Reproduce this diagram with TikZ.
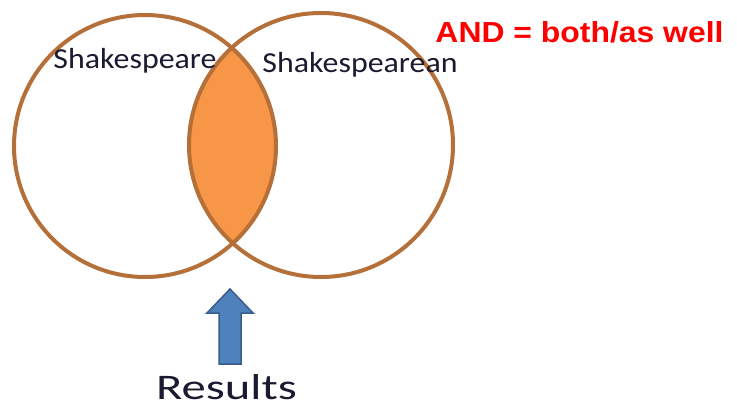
\documentclass[tikz,border=0pt]{standalone}
\usepackage{fontspec}
\setmainfont{Carlito}[FakeStretch=1.1]
\newfontfamily\andfont{Liberation Sans}[FakeStretch=1.1]
\newfontfamily\resultfont{Carlito}[FakeStretch=1.35]
\usepackage{xcolor}
\definecolor{ringbrown}{HTML}{B5703A}
\definecolor{lensorange}{HTML}{F79646}
\definecolor{arrowblue}{HTML}{4F81BD}
\definecolor{arrowedge}{HTML}{385D8A}
\definecolor{labelink}{HTML}{1A1A30}
\usetikzlibrary{positioning}

\begin{document}
\begin{tikzpicture}[x=1pt,y=-1pt,
    ring/.style={draw=ringbrown, line width=4pt},
    setlabel/.style={anchor=base, inner sep=0pt, text=labelink,
      font=\fontsize{29}{29}\selectfont},
    resultlabel/.style={anchor=base, inner sep=0pt, text=labelink,
      font=\resultfont\fontsize{36}{36}\selectfont},
    andlabel/.style={anchor=base, inner sep=0pt, text=red,
      font=\andfont\bfseries\fontsize{29}{29}\selectfont}]
  \useasboundingbox (0,0) rectangle (737,407);

  \coordinate (cl) at (145,146);
  \coordinate (cr) at (321,145);

  % overlap of the two sets
  \begin{scope}
    \clip (cl) circle[radius=131];
    \fill[lensorange] (cr) circle[radius=132];
  \end{scope}
  \draw[ring] (cl) circle[radius=131];
  \draw[ring] (cr) circle[radius=132];

  \node[setlabel] (shak) at (135,68) {Shakespeare};
  \node[setlabel] (shakean) at (360,72) {Shakespearean};
  \node[andlabel] (andnote) at (579.5,42) {AND = both/as well};

  % block arrow pointing at the overlap
  \draw[fill=arrowblue, draw=arrowedge, line width=1.5pt, line join=miter]
    (230,289) -- (253,313) -- (241,313) -- (241,364) -- (219,364)
    -- (219,313) -- (207,313) -- cycle;

  \node[resultlabel] (res) at (226.5,399) {Results};
\end{tikzpicture}
\end{document}
